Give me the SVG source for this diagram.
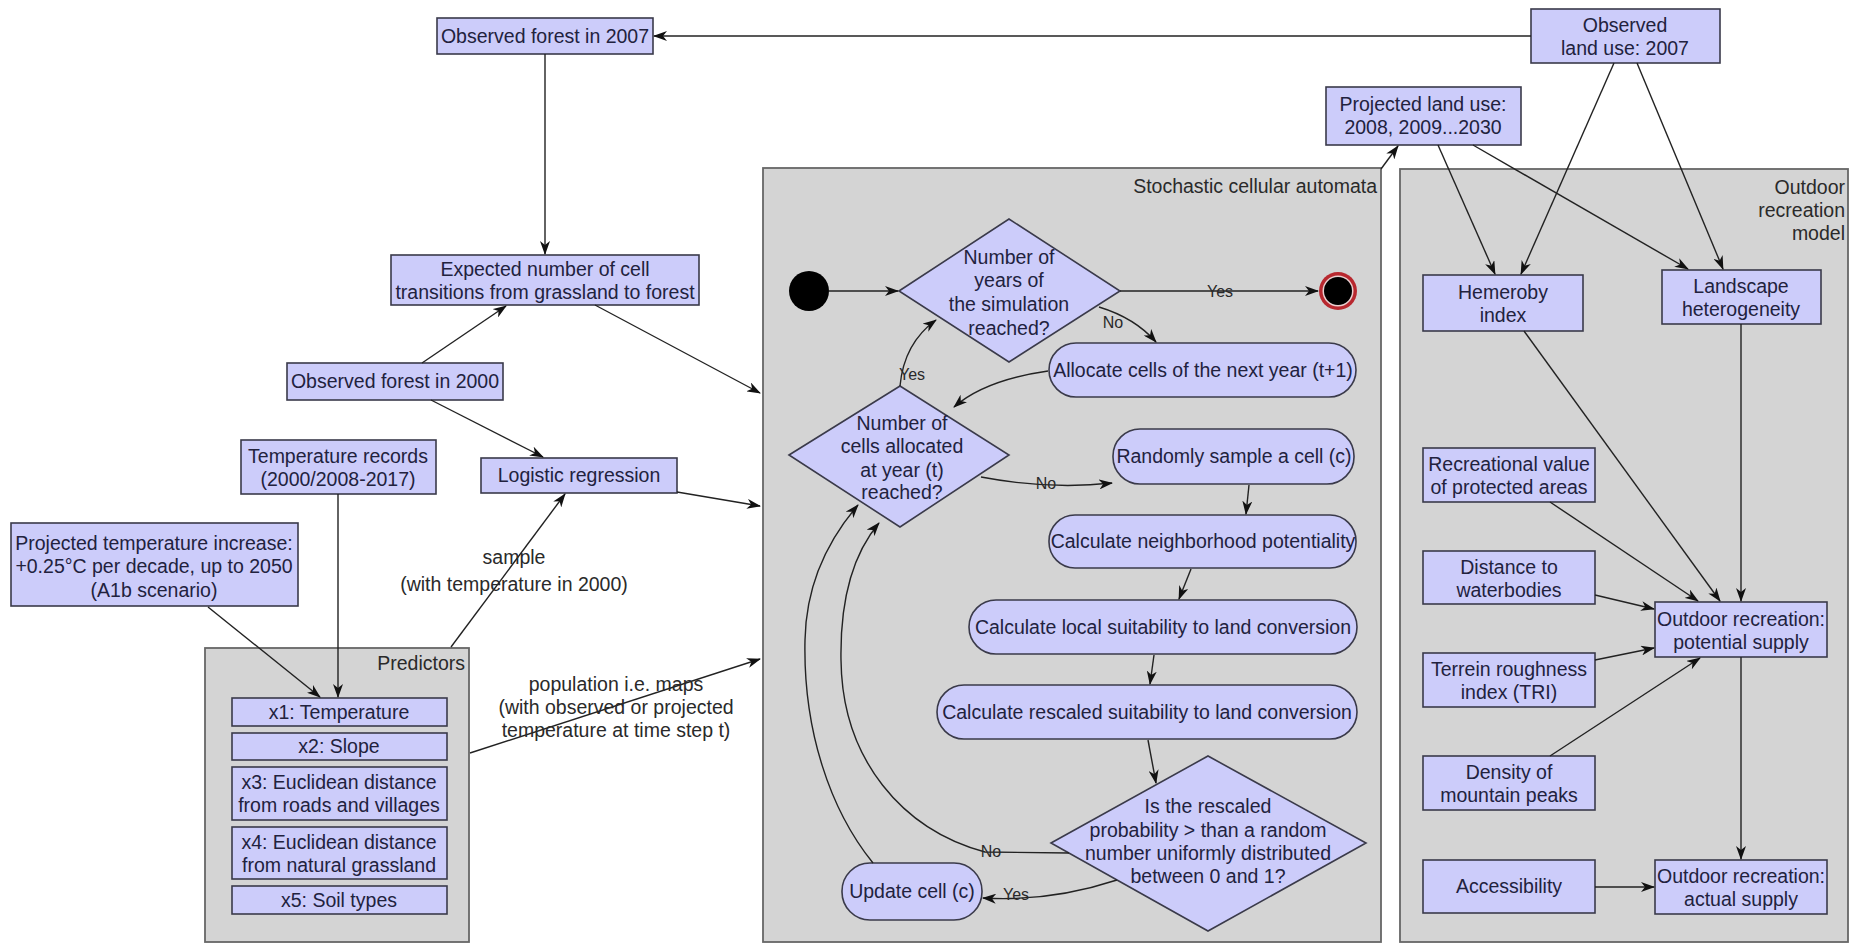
<svg xmlns="http://www.w3.org/2000/svg" width="1856" height="946" viewBox="0 0 1856 946">
<defs>
<style>
.n{fill:#ccccfa;stroke:#3a3a4a;stroke-width:1.6}
.c{fill:#d4d4d4;stroke:#666;stroke-width:1.8}
.t{font-family:"Liberation Sans",Arial,sans-serif;font-size:19.5px;fill:#22223e;text-anchor:middle}
.l{font-family:"Liberation Sans",Arial,sans-serif;font-size:19.5px;fill:#2a2a2a;text-anchor:middle}
.s{font-family:"Liberation Sans",Arial,sans-serif;font-size:16px;fill:#2a2a2a;text-anchor:middle}
.r{text-anchor:end}
.e{fill:none;stroke:#222;stroke-width:1.4;marker-end:url(#a)}
</style>
<marker id="a" markerWidth="14" markerHeight="10" refX="13" refY="5" orient="auto" markerUnits="userSpaceOnUse">
<path d="M0,0 L14,5 L0,10 L4,5 z" fill="#111"/>
</marker>
</defs>
<rect width="1856" height="946" fill="#fff"/>

<!-- containers -->
<g id="sca">
<rect class="c" x="763" y="168" width="618" height="774"/>
<text class="l r" x="1377" y="193">Stochastic cellular automata</text>
</g>
<g id="outdoor">
<rect class="c" x="1400" y="169" width="448" height="773"/>
<text class="l r" x="1845" y="194">Outdoor</text>
<text class="l r" x="1845" y="217">recreation</text>
<text class="l r" x="1845" y="240">model</text>
</g>
<g id="predictors">
<rect class="c" x="205" y="648" width="264" height="294"/>
<text class="l r" x="465" y="670">Predictors</text>
</g>

<!-- left nodes -->
<g id="obs2007"><rect class="n" x="437" y="18" width="216" height="36"/><text class="t" x="545" y="43">Observed forest in 2007</text></g>
<g id="obsland"><rect class="n" x="1531" y="9" width="189" height="54"/><text class="t" x="1625" y="32">Observed</text><text class="t" x="1625" y="55">land use: 2007</text></g>
<g id="projland"><rect class="n" x="1326" y="87" width="195" height="58"/><text class="t" x="1423" y="111">Projected land use:</text><text class="t" x="1423" y="134">2008, 2009...2030</text></g>
<g id="expected"><rect class="n" x="391" y="255" width="308" height="50"/><text class="t" x="545" y="276">Expected number of cell</text><text class="t" x="545" y="299">transitions from grassland to forest</text></g>
<g id="obs2000"><rect class="n" x="287" y="363" width="216" height="37"/><text class="t" x="395" y="388">Observed forest in 2000</text></g>
<g id="temprec"><rect class="n" x="241" y="440" width="195" height="54"/><text class="t" x="338" y="463">Temperature records</text><text class="t" x="338" y="486">(2000/2008-2017)</text></g>
<g id="logreg"><rect class="n" x="481" y="458" width="196" height="35"/><text class="t" x="579" y="482">Logistic regression</text></g>
<g id="projtemp"><rect class="n" x="11" y="523" width="287" height="83"/><text class="t" x="154" y="550">Projected temperature increase:</text><text class="t" x="154" y="573">+0.25°C per decade, up to 2050</text><text class="t" x="154" y="597">(A1b scenario)</text></g>
<g id="x1"><rect class="n" x="232" y="698" width="215" height="28"/><text class="t" x="339" y="719">x1: Temperature</text></g>
<g id="x2"><rect class="n" x="232" y="733" width="215" height="27"/><text class="t" x="339" y="753">x2: Slope</text></g>
<g id="x3"><rect class="n" x="232" y="767" width="215" height="53"/><text class="t" x="339" y="789">x3: Euclidean distance</text><text class="t" x="339" y="812">from roads and villages</text></g>
<g id="x4"><rect class="n" x="232" y="827" width="215" height="52"/><text class="t" x="339" y="849">x4: Euclidean distance</text><text class="t" x="339" y="872">from natural grassland</text></g>
<g id="x5"><rect class="n" x="232" y="886" width="215" height="28"/><text class="t" x="339" y="907">x5: Soil types</text></g>

<!-- SCA nodes -->
<g id="start"><circle cx="809" cy="291" r="20" fill="#000"/></g>
<g id="dec1"><polygon class="n" points="899,291 1009,219 1120,291 1009,362"/>
<text class="t" x="1009" y="264">Number of</text><text class="t" x="1009" y="287">years of</text><text class="t" x="1009" y="311">the simulation</text><text class="t" x="1009" y="335">reached?</text></g>
<g id="end"><circle cx="1338" cy="291" r="19" fill="#b8282f"/><circle cx="1338" cy="291" r="15.5" fill="#ead0d0"/><circle cx="1338" cy="291" r="14" fill="#000"/></g>
<g id="allocate"><rect class="n" x="1049" y="343" width="307" height="54" rx="27"/><text class="t" x="1203" y="377">Allocate cells of the next year (t+1)</text></g>
<g id="dec2"><polygon class="n" points="789,455 900,386 1009,455 900,527"/>
<text class="t" x="902" y="430">Number of</text><text class="t" x="902" y="453">cells allocated</text><text class="t" x="902" y="477">at year (t)</text><text class="t" x="902" y="499">reached?</text></g>
<g id="sample"><rect class="n" x="1113" y="429" width="241" height="55" rx="27"/><text class="t" x="1234" y="463">Randomly sample a cell (c)</text></g>
<g id="neigh"><rect class="n" x="1049" y="515" width="307" height="53" rx="26"/><text class="t" x="1203" y="548">Calculate neighborhood potentiality</text></g>
<g id="local"><rect class="n" x="969" y="600" width="388" height="54" rx="27"/><text class="t" x="1163" y="634">Calculate local suitability to land conversion</text></g>
<g id="rescaled"><rect class="n" x="937" y="685" width="420" height="54" rx="27"/><text class="t" x="1147" y="719">Calculate rescaled suitability to land conversion</text></g>
<g id="dec3"><polygon class="n" points="1051,843 1208,756 1366,843 1208,931"/>
<text class="t" x="1208" y="813">Is the rescaled</text><text class="t" x="1208" y="837">probability &gt; than a random</text><text class="t" x="1208" y="860">number uniformly distributed</text><text class="t" x="1208" y="883">between 0 and 1?</text></g>
<g id="update"><rect class="n" x="842" y="863" width="140" height="57" rx="28"/><text class="t" x="912" y="898">Update cell (c)</text></g>

<!-- outdoor nodes -->
<g id="hemeroby"><rect class="n" x="1423" y="275" width="160" height="56"/><text class="t" x="1503" y="299">Hemeroby</text><text class="t" x="1503" y="322">index</text></g>
<g id="landscape"><rect class="n" x="1662" y="270" width="159" height="54"/><text class="t" x="1741" y="293">Landscape</text><text class="t" x="1741" y="316">heterogeneity</text></g>
<g id="recval"><rect class="n" x="1423" y="448" width="172" height="54"/><text class="t" x="1509" y="471">Recreational value</text><text class="t" x="1509" y="494">of protected areas</text></g>
<g id="dist"><rect class="n" x="1423" y="551" width="172" height="53"/><text class="t" x="1509" y="574">Distance to</text><text class="t" x="1509" y="597">waterbodies</text></g>
<g id="tri"><rect class="n" x="1423" y="653" width="172" height="54"/><text class="t" x="1509" y="676">Terrein roughness</text><text class="t" x="1509" y="699">index (TRI)</text></g>
<g id="peaks"><rect class="n" x="1423" y="756" width="172" height="54"/><text class="t" x="1509" y="779">Density of</text><text class="t" x="1509" y="802">mountain peaks</text></g>
<g id="access"><rect class="n" x="1423" y="860" width="172" height="53"/><text class="t" x="1509" y="893">Accessibility</text></g>
<g id="potential"><rect class="n" x="1655" y="602" width="172" height="55"/><text class="t" x="1741" y="626">Outdoor recreation:</text><text class="t" x="1741" y="649">potential supply</text></g>
<g id="actual"><rect class="n" x="1655" y="860" width="172" height="54"/><text class="t" x="1741" y="883">Outdoor recreation:</text><text class="t" x="1741" y="906">actual supply</text></g>

<!-- connectors -->
<g id="connectors">
<path class="e" d="M1531,36 L654,36"/>
<path class="e" d="M545,54 L545,254"/>
<path class="e" d="M422,363 L506,306"/>
<path class="e" d="M595,305 L760,393"/>
<path class="e" d="M431,400 L543,457"/>
<path class="e" d="M677,492 L760,506"/>
<path class="e" d="M451,647 L565,494"/>
<path class="e" d="M208,607 L320,697"/>
<path class="e" d="M338,494 L338,697"/>
<path class="e" d="M470,753 L760,659"/>
<path class="e" d="M1381,169 L1398,146"/>
<path class="e" d="M829,291 L898,291"/>
<path class="e" d="M1120,291 L1318,291"/>
<path class="e" d="M1099,307 Q1135,318 1156,342"/>
<path class="e" d="M1048,371 Q985,380 954,407"/>
<path class="e" d="M900,386 Q904,343 936,320"/>
<path class="e" d="M981,477 Q1050,490 1112,483"/>
<path class="e" d="M1249,485 L1246,514"/>
<path class="e" d="M1191,569 L1179,599"/>
<path class="e" d="M1154,655 L1150,684"/>
<path class="e" d="M1148,740 L1156,783"/>
<path class="e" d="M1117,880 Q1050,902 983,898"/>
<path class="e" d="M1069,853 L985,852 C903,830 842,760 841,660 C840,600 852,555 879,523"/>
<path class="e" d="M873,863 C830,810 803,730 805,640 C806,585 828,540 858,505"/>
<path class="e" d="M1438,145 L1495,274"/>
<path class="e" d="M1614,63 L1521,274"/>
<path class="e" d="M1473,145 L1688,269"/>
<path class="e" d="M1637,63 L1723,269"/>
<path class="e" d="M1524,331 L1720,601"/>
<path class="e" d="M1741,324 L1741,601"/>
<path class="e" d="M1550,502 L1698,601"/>
<path class="e" d="M1595,595 L1654,609"/>
<path class="e" d="M1595,660 L1654,648"/>
<path class="e" d="M1550,756 L1700,658"/>
<path class="e" d="M1741,657 L1741,859"/>
<path class="e" d="M1595,887 L1654,887"/>
</g>

<!-- edge labels -->
<g id="labels">
<text class="l" x="514" y="564">sample</text>
<text class="l" x="514" y="591">(with temperature in 2000)</text>
<text class="l" x="616" y="691">population i.e. maps</text>
<text class="l" x="616" y="714">(with observed or projected</text>
<text class="l" x="616" y="737">temperature at time step t)</text>
<text class="s" x="1220" y="297">Yes</text>
<text class="s" x="1113" y="328">No</text>
<text class="s" x="912" y="380">Yes</text>
<text class="s" x="1046" y="489">No</text>
<text class="s" x="991" y="857">No</text>
<text class="s" x="1016" y="900">Yes</text>
</g>
</svg>
